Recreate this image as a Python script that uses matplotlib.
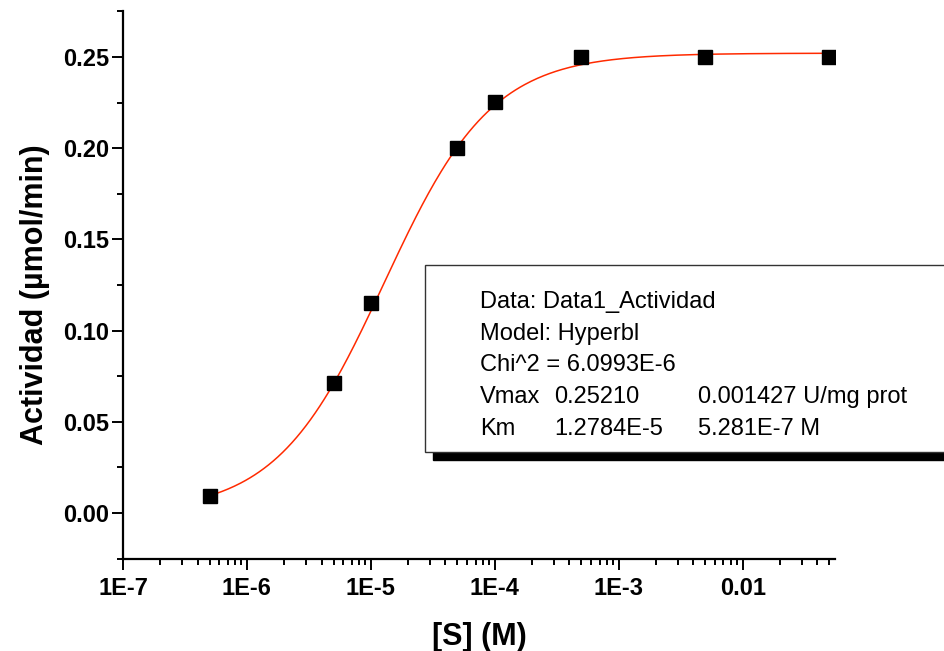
import numpy as np
import matplotlib
matplotlib.use("Agg")
import matplotlib.pyplot as plt
from matplotlib.patches import Rectangle
from matplotlib.ticker import LogLocator, FixedLocator, MultipleLocator

plt.rcParams['font.family'] = ['Liberation Sans', 'DejaVu Sans']

# measured substrate concentrations (M) and activity (umol/min)
substrate = [5e-7, 5e-6, 1e-5, 5e-5, 1e-4, 5e-4, 5e-3, 5e-2]
activity = [0.0093, 0.0713, 0.1151, 0.2000, 0.2253, 0.2500, 0.2500, 0.2500]

# fitted hyperbola parameters (from the fit box)
vmax = 0.25210
km = 1.2784e-5
x_ticks = [1e-7, 1e-6, 1e-5, 1e-4, 1e-3, 1e-2]
x_labels = ['1E-7', '1E-6', '1E-5', '1E-4', '1E-3', '0.01']
y_ticks = [0.00, 0.05, 0.10, 0.15, 0.20, 0.25]

fit_lines = ['Data: Data1_Actividad', 'Model: Hyperbl', 'Chi^2 = 6.0993E-6']
param_rows = [('Vmax', '0.25210', '0.001427 U/mg prot'),
              ('Km', '1.2784E-5', '5.281E-7 M')]

W, H = 944, 651
fig = plt.figure(figsize=(W / 100, H / 100), dpi=100)
ax = fig.add_axes([123 / W, 1 - 558.6 / H, (835 - 123) / W, (558.6 - 11.4) / H])

# fitted curve from the model parameters
s = np.logspace(np.log10(substrate[0]), np.log10(substrate[-1]), 400)
ax.plot(s, vmax * s / (km + s), color='#ff2a00', lw=1.1, zorder=2)
ax.plot(substrate, activity, 's', color='black', ms=10, zorder=3)

ax.set_xscale('log')
ax.set_xlim(1e-7, 0.0556)
ax.set_ylim(-0.025, 0.275)

ax.xaxis.set_major_locator(FixedLocator(x_ticks))
ax.set_xticklabels(x_labels)
ax.xaxis.set_minor_locator(LogLocator(base=10, subs=np.arange(2, 10)))
ax.xaxis.set_minor_formatter(plt.NullFormatter())
ax.set_yticks(y_ticks)
ax.set_yticklabels([f'{v:.2f}' for v in y_ticks])
ax.yaxis.set_minor_locator(MultipleLocator(0.025))

for sp in ['top', 'right']:
    ax.spines[sp].set_visible(False)
for sp in ['left', 'bottom']:
    ax.spines[sp].set_linewidth(1.6)

ax.tick_params(which='major', length=8, width=1.4, direction='out')
ax.tick_params(axis='x', which='major', pad=5)
ax.tick_params(axis='y', which='major', pad=2)
ax.tick_params(which='minor', length=4, width=1.4, direction='out')
for lab in ax.get_xticklabels() + ax.get_yticklabels():
    lab.set_fontsize(17)
    lab.set_fontweight('bold')

ax.set_xlabel('[S] (M)', fontsize=22, fontweight='bold', labelpad=16)
ax.set_ylabel('Actividad (µmol/min)', fontsize=22, fontweight='bold')
ax.yaxis.set_label_coords(-0.103, 0.482)

# fit results box with shadow, running off the right edge
fig.add_artist(Rectangle((433 / W, 1 - 460 / H), 600 / W, (452 - 265) / H,
                         transform=fig.transFigure, facecolor='black',
                         edgecolor='black', zorder=5))
fig.add_artist(Rectangle((425 / W, 1 - 452 / H), 600 / W, (452 - 265) / H,
                         transform=fig.transFigure, facecolor='white',
                         edgecolor='#333333', lw=1.0, zorder=6))

baselines = [308, 340, 371, 403, 435]
for i, line in enumerate(fit_lines):
    fig.text(480 / W, 1 - baselines[i] / H, line, fontsize=17,
             va='baseline', ha='left', zorder=7)
for j, (name, val, err) in enumerate(param_rows):
    yb = 1 - baselines[3 + j] / H
    fig.text(480 / W, yb, name, fontsize=17, va='baseline', zorder=7)
    fig.text(554 / W, yb, val, fontsize=17, va='baseline', zorder=7)
    fig.text(698 / W, yb, err, fontsize=17, va='baseline', zorder=7)

fig.savefig('out.png', dpi=100)
